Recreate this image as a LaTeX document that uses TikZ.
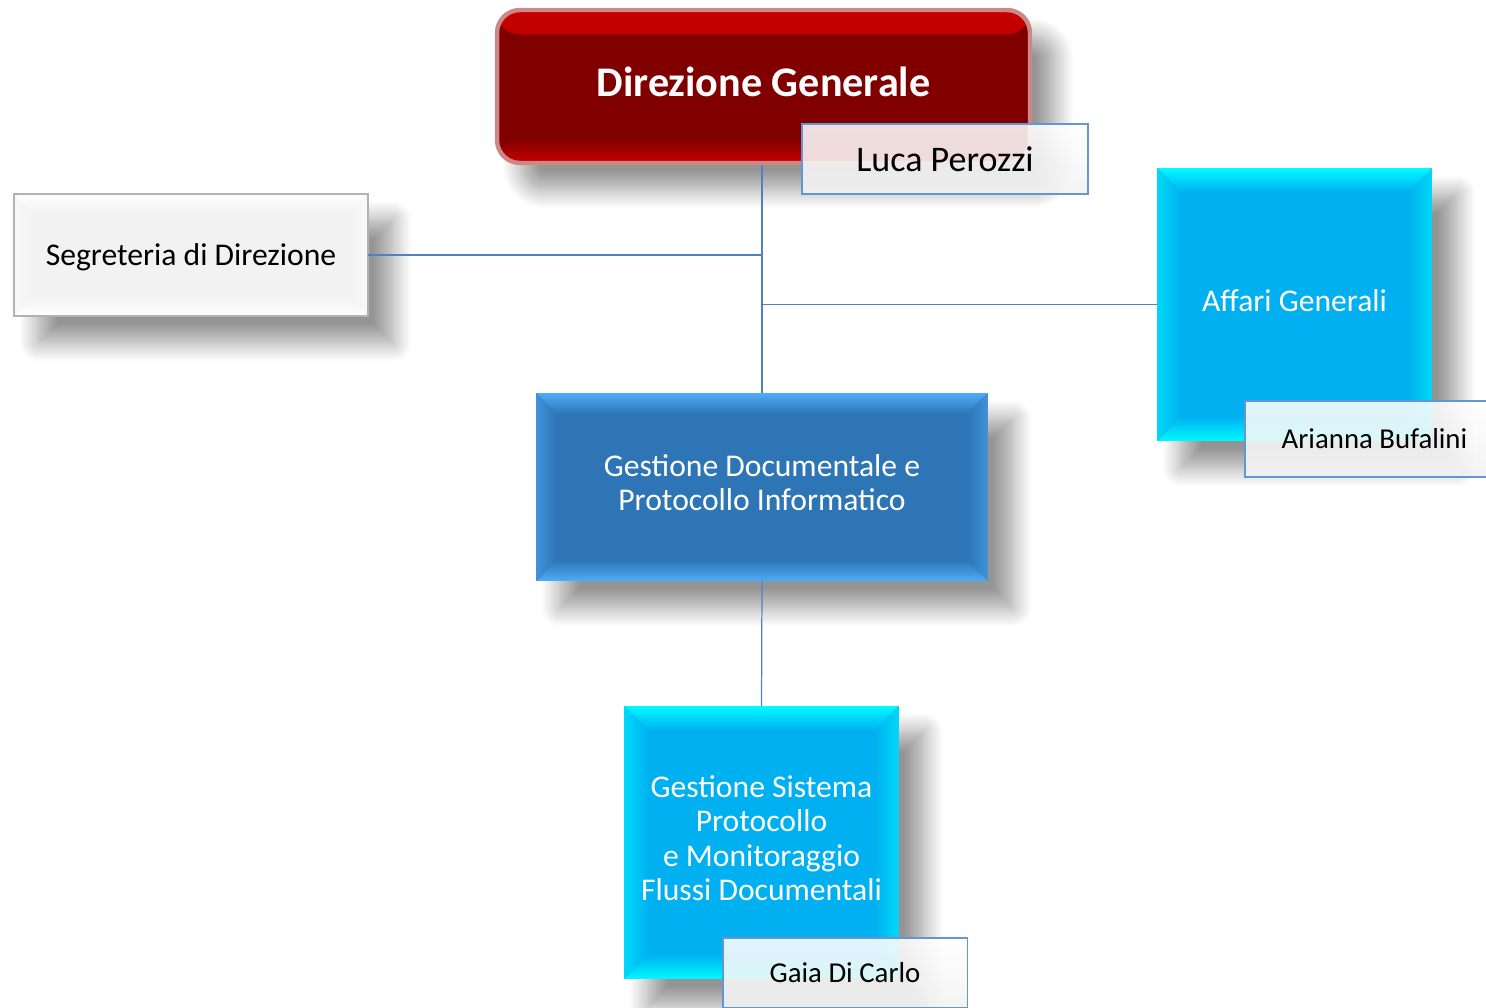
\documentclass[tikz,border=0pt]{standalone}
\usepackage{fontspec}
\setmainfont{Carlito}
\usetikzlibrary{shadows.blur}

\definecolor{dgbase}{RGB}{128,0,0}
\definecolor{dgedge}{RGB}{200,0,0}
\definecolor{dgring}{RGB}{205,135,135}
\definecolor{cyanface}{RGB}{0,176,240}
\definecolor{cyanedge}{RGB}{0,250,255}
\definecolor{blueface}{RGB}{46,117,182}
\definecolor{blueedge}{RGB}{78,172,248}
\definecolor{greyface}{RGB}{242,242,242}
\definecolor{greyedge}{RGB}{255,255,255}
\definecolor{nameline}{RGB}{100,150,215}
\definecolor{linkline}{RGB}{80,130,190}

\tikzset{
  bevel/.style n args={3}{% edge colour, face colour, depth
    fill=#2,
    path picture={
      \path (path picture bounding box.north west) coordinate (bnw)
            (path picture bounding box.north east) coordinate (bne)
            (path picture bounding box.south west) coordinate (bsw)
            (path picture bounding box.south east) coordinate (bse);
      \shade[top color=#1, bottom color=#2] (bnw) -- (bne) -- ([shift={(-#3,-#3)}]bne) -- ([shift={(#3,-#3)}]bnw) -- cycle;
      \shade[top color=#2, bottom color=#1] (bsw) -- (bse) -- ([shift={(-#3,#3)}]bse) -- ([shift={(#3,#3)}]bsw) -- cycle;
      \shade[left color=#1!55!#2, right color=#2] (bnw) -- ([shift={(#3,-#3)}]bnw) -- ([shift={(#3,#3)}]bsw) -- (bsw) -- cycle;
      \shade[left color=#2, right color=#1!55!#2] (bne) -- ([shift={(-#3,-#3)}]bne) -- ([shift={(-#3,#3)}]bse) -- (bse) -- cycle;
    }},
  dropshadow/.style={blur shadow={shadow xshift=14pt, shadow yshift=-15pt,
      shadow blur radius=11pt, shadow blur steps=16, shadow opacity=42}},
  unitbox/.style={dropshadow, inner sep=0pt, outer sep=0pt, align=center, text=white,
      text depth=5pt, font=\fontsize{18}{19.6}\selectfont},
  namebox/.style={draw=nameline, line width=1.1pt, top color=white, bottom color=greyface,
      fill opacity=0.88, text opacity=1, text=black, inner sep=0pt,
      font=\fontsize{16.4}{19}\selectfont},
  link/.style={draw=linkline, line width=0.7pt},
}

\begin{document}
\begin{tikzpicture}[x=0.02cm, y=-0.02cm]
  \clip (0,0) rectangle (1486,1007);

  % top
  \node[dropshadow, draw=dgring, line width=2.5pt, rounded corners=13pt, fill=dgbase,
        minimum width=10.66cm, minimum height=3.06cm, text=white, text depth=5pt,
        font=\bfseries\fontsize{24}{28}\selectfont,
        path picture={
          \shade[top color=dgedge, bottom color=dgbase] (path picture bounding box.north west)
            rectangle ([yshift=-14pt]path picture bounding box.north east);
          \shade[top color=dgbase, bottom color=dgedge] ([yshift=14pt]path picture bounding box.south west)
            rectangle (path picture bounding box.south east);
        }] (dir) at (763.5,86.5) {Direzione Generale};
  \node[namebox, minimum width=5.72cm, minimum height=1.4cm,
        font=\fontsize{20.5}{24}\selectfont] (luca) at (945,159) {Luca Perozzi};

  % staff
  \node[unitbox, bevel={greyedge}{greyface}{11pt}, draw=gray!60, line width=0.9pt, text=black,
        text depth=1pt, minimum width=7.08cm, minimum height=2.44cm] (seg) at (191,255)
        {Segreteria di Direzione};

  \node[unitbox, bevel={cyanedge}{cyanface}{14pt},
        minimum width=5.5cm, minimum height=5.46cm] (aff) at (1294.5,304.5) {Affari Generali};
  \node[namebox, minimum width=5.18cm, minimum height=1.52cm] (arianna) at (1374.5,439) {Arianna Bufalini};

  % line
  \node[unitbox, bevel={blueedge}{blueface}{12pt},
        minimum width=9.04cm, minimum height=3.76cm] (gdoc) at (762,487)
        {Gestione Documentale e\\Protocollo Informatico};

  \node[unitbox, bevel={cyanedge}{cyanface}{14pt},
        minimum width=5.5cm, minimum height=5.46cm] (gsis) at (761.5,842.5)
        {Gestione Sistema\\Protocollo\\e Monitoraggio\\Flussi Documentali};
  \node[namebox, minimum width=4.9cm, minimum height=1.4cm] (gaia) at (845,973) {Gaia Di Carlo};

  % connectors
  \draw[link] (gdoc.north |- dir.south) -- (gdoc.north);
  \draw[link] (seg.east) -- (seg.east -| gdoc.north);
  \draw[link] (aff.west) -- (aff.west -| gdoc.north);
  \draw[link] (gdoc.south) -- (gsis.north);
\end{tikzpicture}
\end{document}
